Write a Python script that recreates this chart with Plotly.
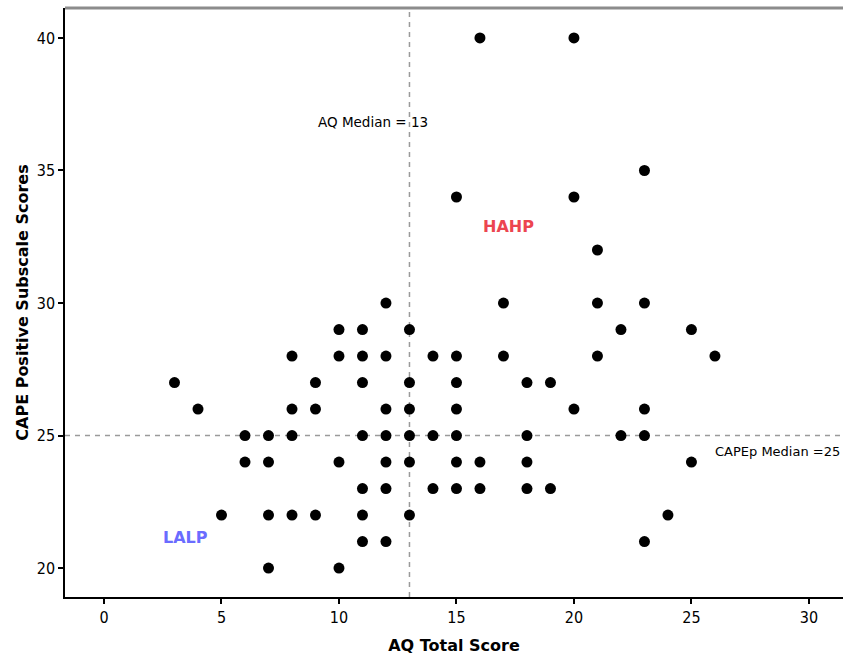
import plotly.graph_objects as go

# AQ total score (x) and CAPE positive subscale score (y) per participant
aq_scores = [
    3, 4, 5, 6, 6,
    7, 7, 7, 7,
    8, 8, 8, 8,
    9, 9, 9,
    10, 10, 10, 10,
    11, 11, 11, 11, 11, 11, 11,
    12, 12, 12, 12, 12, 12, 12,
    13, 13, 13, 13, 13, 13,
    14, 14, 14,
    15, 15, 15, 15, 15, 15, 15,
    16, 16, 16,
    17, 17,
    18, 18, 18, 18,
    19, 19,
    20, 20, 20,
    21, 21, 21,
    22, 22,
    23, 23, 23, 23, 23,
    24,
    25, 25,
    26,
]
cape_pos_scores = [
    27, 26, 22, 25, 24,
    25, 24, 22, 20,
    28, 26, 25, 22,
    27, 26, 22,
    29, 28, 24, 20,
    29, 28, 27, 25, 23, 22, 21,
    30, 28, 26, 25, 24, 23, 21,
    29, 27, 26, 25, 24, 22,
    28, 25, 23,
    34, 28, 27, 26, 25, 24, 23,
    40, 24, 23,
    30, 28,
    27, 25, 24, 23,
    27, 23,
    40, 34, 26,
    32, 30, 28,
    29, 25,
    35, 30, 26, 25, 21,
    22,
    29, 24,
    28,
]

aq_median = 13
cape_median = 25

x_ticks = [0, 5, 10, 15, 20, 25, 30]
y_ticks = [20, 25, 30, 35, 40]

label_font = "DejaVu Sans, sans-serif"
tick_font = "DejaVu Sans Condensed, Liberation Sans Narrow, sans-serif"

fig = go.Figure()

fig.add_trace(go.Scatter(
    x=aq_scores,
    y=cape_pos_scores,
    mode="markers",
    marker=dict(color="black", size=11, symbol="circle", line=dict(width=0)),
    showlegend=False,
    hoverinfo="x+y",
))

# median reference lines
fig.add_shape(type="line", xref="x", yref="paper", x0=aq_median, x1=aq_median, y0=0, y1=1,
              line=dict(color="#9a9a9a", width=1.5, dash="5px,5px"), layer="below")
fig.add_shape(type="line", xref="paper", yref="y", x0=0, x1=1, y0=cape_median, y1=cape_median,
              line=dict(color="#9a9a9a", width=1.5, dash="5px,5px"), layer="below")

# grey frame line along the top of the plotting area
fig.add_shape(type="line", xref="paper", yref="paper", x0=0, x1=1, y0=1, y1=1,
              line=dict(color="#8c8c8c", width=3))

annot_font = dict(family=label_font, size=13.5, color="black")
fig.add_annotation(x=aq_median, y=36.83, xref="x", yref="y", text="AQ Median = 13",
                   showarrow=False, xanchor="right", xshift=21, font=annot_font)
fig.add_annotation(x=1, y=24.4, xref="paper", yref="y", text="CAPEp Median =25",
                   showarrow=False, xanchor="right", xshift=-1,
                   font=dict(family=label_font, size=13, color="black"))
fig.add_annotation(x=17.2, y=32.9, xref="x", yref="y", text="<b>HAHP</b>",
                   showarrow=False, font=dict(family=label_font, size=16, color="#ec4550"))
fig.add_annotation(x=3.45, y=21.15, xref="x", yref="y", text="<b>LALP</b>",
                   showarrow=False, font=dict(family=label_font, size=16, color="#6a6cff"))

axis_common = dict(
    showgrid=False, zeroline=False, showline=True, linecolor="black", linewidth=1.5,
    ticks="outside", ticklen=5, tickwidth=1.5, tickcolor="black",
    tickfont=dict(family=tick_font, size=16, color="black"),
)

fig.update_xaxes(
    range=[-1.66, 31.45], tickvals=x_ticks, ticktext=[str(v) for v in x_ticks],
    title=dict(text="<b>AQ Total Score</b>", font=dict(family=label_font, size=16, color="black"),
               standoff=14),
    **axis_common,
)
fig.update_yaxes(
    range=[18.91, 41.13], tickvals=y_ticks, ticktext=[str(v) for v in y_ticks],
    title=dict(text="<b>CAPE Positive Subscale Scores</b>",
               font=dict(family=label_font, size=16, color="black"), standoff=4),
    **axis_common,
)

fig.update_layout(
    width=843, height=659,
    margin=dict(l=65, r=0, t=8, b=62),
    paper_bgcolor="white", plot_bgcolor="white",
    font=dict(family=label_font, color="black"),
)

fig.write_html("out.html")
